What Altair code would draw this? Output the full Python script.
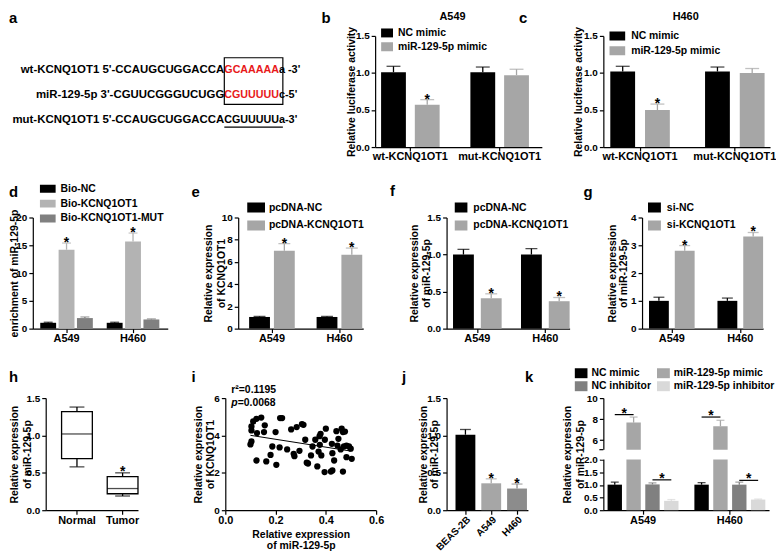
import altair as alt
import pandas as pd

FONT = "Liberation Sans"
RED = "#e8191a"
BLACK = "#000000"
GRAY = "#a6a6a6"
DGRAY = "#808080"
LGRAY = "#d9d9d9"

# ---------------- data ----------------
# a: sequences
seq_left = ["wt-KCNQ1OT1 5'-CCAUGCUGGACCA", "miR-129-5p 3'-CGUUCGGGUCUGG", "mut-KCNQ1OT1 5'-CCAUGCUGGACCA"]
seq_site = ["GCAAAAA", "CGUUUUU", "CGUUUUU"]
seq_right = ["a -3'", "c-5'", "a-3'"]

# b / c: luciferase
luc_groups = ["wt-KCNQ1OT1", "mut-KCNQ1OT1"]
mimic_series = ["NC mimic", "miR-129-5p mimic"]
b_mean = [1.01, 0.57, 1.01, 0.97]
b_err = [0.08, 0.07, 0.07, 0.08]
b_sig = [False, True, False, False]
c_mean = [1.02, 0.50, 1.02, 1.00]
c_err = [0.07, 0.08, 0.06, 0.06]
c_sig = [False, True, False, False]

cells = ["A549", "H460"]
# d: RNA pull-down
d_series = ["Bio-NC", "Bio-KCNQ1OT1", "Bio-KCNQ1OT1-MUT"]
d_mean = [1.05, 14.2, 1.9, 1.05, 15.7, 1.65]
d_err = [0.1, 1.2, 0.2, 0.1, 1.5, 0.1]
d_sig = [False, True, False, False, True, False]
# e / f
pcdna_series = ["pcDNA-NC", "pcDNA-KCNQ1OT1"]
e_mean = [1.05, 7.0, 1.05, 6.65]
e_err = [0.05, 0.65, 0.05, 0.6]
e_sig = [False, True, False, True]
f_mean = [1.0, 0.41, 1.0, 0.37]
f_err = [0.07, 0.06, 0.08, 0.05]
f_sig = [False, True, False, True]
# g
si_series = ["si-NC", "si-KCNQ1OT1"]
g_mean = [1.0, 2.8, 1.0, 3.32]
g_err = [0.13, 0.19, 0.1, 0.14]
g_sig = [False, True, False, True]

# h: box plot
box_groups = ["Normal", "Tumor"]
box_min = [0.58, 0.19]
box_q1 = [0.69, 0.22]
box_med = [1.02, 0.29]
box_q3 = [1.32, 0.45]
box_max = [1.38, 0.50]
box_sig = [False, True]

# i: scatter
mir_x = [0.111, 0.124, 0.143, 0.157, 0.154, 0.126, 0.104, 0.104, 0.104, 0.100,
         0.124, 0.163, 0.180, 0.187, 0.203, 0.200, 0.218, 0.226, 0.216, 0.246,
         0.262, 0.272, 0.275, 0.284, 0.295, 0.305, 0.311, 0.318, 0.324, 0.329,
         0.341, 0.347, 0.358, 0.366, 0.371, 0.375, 0.379, 0.376, 0.382, 0.400,
         0.396, 0.395, 0.420, 0.426, 0.426, 0.424, 0.433, 0.442, 0.446, 0.450,
         0.463, 0.468, 0.472, 0.476, 0.482, 0.492, 0.499, 0.503, 0.482, 0.468, 0.459]
kcnq_y = [4.75, 4.89, 4.96, 4.54, 4.18, 4.13, 4.48, 4.27, 3.68, 3.52,
          2.66, 2.61, 2.96, 3.41, 2.43, 4.18, 4.93, 4.93, 3.36, 3.25,
          4.32, 3.02, 2.89, 4.45, 3.18, 4.61, 4.57, 3.77, 2.54, 2.50,
          2.93, 3.41, 3.77, 2.34, 3.14, 3.96, 4.09, 3.50, 2.93, 4.36,
          3.77, 2.04, 2.07, 2.13, 3.05, 3.55, 2.66, 4.23, 3.46, 3.82,
          4.36, 4.18, 3.41, 4.21, 3.46, 3.41, 3.29, 2.75, 2.84, 2.07, 3.25]

# j
j_cells = ["BEAS-2B", "A549", "H460"]
j_mean = [1.01, 0.36, 0.29]
j_err = [0.07, 0.06, 0.06]
j_sig = [False, True, True]
j_colors = [BLACK, GRAY, "#8c8c8c"]

# k
k_series = ["NC mimic", "miR-129-5p mimic", "NC inhibitor", "miR-129-5p inhibitor"]
k_mean = [1.01, 7.67, 1.02, 0.37, 1.01, 7.32, 1.01, 0.42]
k_err = [0.10, 0.53, 0.06, 0.05, 0.08, 0.57, 0.10, 0.02]
k_br_group = ["A549", "A549", "H460", "H460"]
k_br_from = ["NC mimic", "NC inhibitor", "NC mimic", "NC inhibitor"]
k_br_to = ["miR-129-5p mimic", "miR-129-5p inhibitor", "miR-129-5p mimic", "miR-129-5p inhibitor"]
k_br_y = [8.43, 1.20, 8.20, 1.18]


# ---------------- helpers ----------------
def one():
    return pd.DataFrame({"z": [0]})


def txt(s, x, y, size=11, weight="bold", align="left", baseline="middle", style="normal", color="black"):
    return alt.Chart(pd.DataFrame({"t": [s]})).mark_text(
        fontSize=size, fontWeight=weight, align=align, baseline=baseline,
        fontStyle=style, color=color, font=FONT
    ).encode(text="t:N", x=alt.value(x), y=alt.value(y))


def bounds_rule(top, H, bottom):
    return alt.Chart(one()).mark_rule(color="white", strokeWidth=0.5).encode(
        x=alt.value(0), y=alt.value(-top), y2=alt.value(H + bottom))


def spacer(w, H, top=None, bottom=None):
    if top is not None:
        ch = bounds_rule(top, H, bottom)
    else:
        ch = alt.Chart(one()).mark_point(opacity=0, size=1).encode(x=alt.value(0), y=alt.value(0))
    return ch.properties(width=w, height=H)


def band_scale(W, n, c1, c2, G):
    S = c2 - c1
    pi = 1 - G / S
    po = max(0.0, (W / S - n + pi) / 2)
    free = W - S * (n - pi)
    start = c1 - G / 2
    al = min(1.0, max(0.0, start / free)) if free > 0 else 0.5
    return alt.Scale(paddingInner=pi, paddingOuter=po, align=al)


def rect_sym(w, h):
    return "M-1,-{0:.3f}H1V{0:.3f}H-1Z".format(h / w)


def legend(x, y, w, h, clip, rowpad, loff, columns=None, colpad=None):
    kw = dict(orient="none", legendX=x, legendY=y, title=None, symbolType=rect_sym(w, h),
              symbolSize=w * w, clipHeight=clip, rowPadding=rowpad, labelOffset=loff,
              symbolStrokeWidth=0)
    if columns:
        kw["columns"] = columns
        kw["columnPadding"] = colpad
        kw["direction"] = "horizontal"
    else:
        kw["direction"] = "vertical"
    return alt.Legend(**kw)


def yaxis(H, ticks, title, tx, tlh=12, fmt=".1f", expr=None):
    kw = dict(values=ticks, tickCount=30, title=title, titleX=tx, titleY=H / 2, titleAngle=-90,
              titleAlign="center", titleBaseline="middle", titleLineHeight=tlh)
    if expr:
        kw["labelExpr"] = expr
    else:
        kw["format"] = fmt
    return alt.Axis(**kw)


def bar_panel(groups, series, means, errs, sigs, colors, W, H, c1, c2, bw, gap,
              ydom, yticks, ytitle, tx, tlh=12, leg=None, yfmt=".1f", yscale=None,
              expr=None, extra=None, capw=None):
    ns = len(series)
    rows = []
    for gi, g in enumerate(groups):
        for si, s in enumerate(series):
            k = gi * ns + si
            rows.append({"group": g, "series": s, "mean": means[k], "top": means[k] + errs[k],
                         "ecol": colors[si], "star": "*" if sigs[k] else ""})
    df = pd.DataFrame(rows)
    G = ns * bw + (ns - 1) * gap
    X = alt.X("group:N", sort=groups, scale=band_scale(W, len(groups), c1, c2, G),
              axis=alt.Axis(title=None))
    XO = alt.XOffset("series:N", sort=series,
                     scale=alt.Scale(domain=series, paddingInner=gap / (bw + gap), paddingOuter=0))
    ysc = yscale if yscale is not None else alt.Scale(domain=ydom, nice=False, zero=True)
    yax = yaxis(H, yticks, ytitle, tx, tlh, yfmt, expr)

    def Y(f):
        return alt.Y(f"{f}:Q", scale=ysc, axis=yax)

    base = alt.Chart(df)
    bars = base.mark_bar().encode(
        x=X, xOffset=XO, y=Y("mean"),
        color=alt.Color("series:N", sort=series, scale=alt.Scale(domain=series, range=colors), legend=leg))
    err = base.mark_rule(strokeWidth=1.3).encode(
        x=X, xOffset=XO, y=Y("mean"), y2="top:Q", stroke=alt.Stroke("ecol:N", scale=None))
    cap = base.mark_tick(thickness=1.3, size=capw or round(bw * 0.55)).encode(
        x=X, xOffset=XO, y=Y("top"), fill=alt.Fill("ecol:N", scale=None))
    star = base.transform_filter("datum.star != ''").mark_text(
        fontSize=14, fontWeight="bold", baseline="alphabetic", dy=4, color="black", font=FONT
    ).encode(x=X, xOffset=XO, y=Y("top"), text="star:N")
    layers = [bars, err, cap, star]
    if extra:
        layers += extra(X, XO, Y)
    return layers


def letter(ch, x, y):
    return txt(ch, x, y, size=15, baseline="top")


def indep(ch):
    return ch.resolve_scale(color="independent", xOffset="independent").resolve_legend(color="independent")


# ---------------- row 1 ----------------
H1 = 112
seq_df = pd.DataFrame({"row": [0, 1, 2], "left": seq_left, "site": seq_site, "right": seq_right})
seq_y = alt.Y("row:Q", scale=alt.Scale(domain=[0, 2], range=[34, 85]), axis=None)
seq_base = alt.Chart(seq_df)
a_left = seq_base.mark_text(align="right", baseline="middle", fontSize=11.5, fontWeight="bold",
                            font=FONT, color="black").encode(x=alt.value(217), y=seq_y, text="left:N")
a_site = seq_base.mark_text(align="left", baseline="middle", fontSize=10.8, fontWeight="bold", font=FONT).encode(
    x=alt.value(217), y=seq_y, text="site:N",
    color=alt.condition("datum.row < 2", alt.value(RED), alt.value("black")))
a_right = seq_base.mark_text(align="left", baseline="middle", fontSize=11, fontWeight="bold",
                             font=FONT, color="black").encode(x=alt.value(272), y=seq_y, text="right:N")
a_box = alt.Chart(one()).mark_rect(fillOpacity=0, stroke="black", strokeWidth=1.2).encode(
    x=alt.value(217), x2=alt.value(276), y=alt.value(22), y2=alt.value(69))
a_line = alt.Chart(one()).mark_rule(color="black", strokeWidth=1.2).encode(
    x=alt.value(217), x2=alt.value(276), y=alt.value(92))
panel_a = alt.layer(bounds_rule(25, H1, 25), letter("a", 0, -25), a_left, a_site, a_right, a_box, a_line
                    ).properties(width=369, height=H1)

b_layers = bar_panel(luc_groups, mimic_series, b_mean, b_err, b_sig, [BLACK, GRAY], 168, H1,
                     35.5, 125.5, 25, 9, [0, 1.5], [0, 0.5, 1.0, 1.5], "Relative luciferase activity", -24,
                     leg=legend(6, -9, 12, 9, 12, 2, 5))
panel_b = alt.layer(*b_layers, letter("b", -54, -25), txt("A549", 78, -19, align="center")
                    ).properties(width=168, height=H1)

c_layers = bar_panel(luc_groups, mimic_series, c_mean, c_err, c_sig, [BLACK, GRAY], 168, H1,
                     37, 132.5, 25, 10, [0, 1.5], [0, 0.5, 1.0, 1.5], "Relative luciferase activity", -25,
                     leg=legend(6, -6, 16, 9, 12, 3, 6))
panel_c = alt.layer(*c_layers, letter("c", -85, -25), txt("H460", 83, -19, align="center")
                    ).properties(width=168, height=H1)

row1 = indep(alt.hconcat(panel_a, panel_b, spacer(62, H1), panel_c, spacing=0, bounds="flush"))

# ---------------- row 2 ----------------
H2 = 112
d_layers = bar_panel(cells, d_series, d_mean, d_err, d_sig, [BLACK, "#b3b3b3", DGRAY], 136, H2,
                     34, 101, 16, 2.5, [0, 20], [0, 5, 10, 15, 20], "enrichment of miR-129-5p", -18,
                     yfmt="d", leg=legend(7, -35, 16, 8, 12, 3, 5))
panel_d = alt.layer(*d_layers, letter("d", -24, -33)).properties(width=136, height=H2)

e_layers = bar_panel(cells, pcdna_series, e_mean, e_err, e_sig, [BLACK, GRAY], 126, H2,
                     34, 102, 21, 4, [0, 10], [0, 2, 4, 6, 8, 10], ["Relative expression", "of KCNQ1OT1"], -30,
                     tlh=13.5, yfmt="d", leg=legend(9, -17, 18, 10, 14, 4, 4))
panel_e = alt.layer(*e_layers, letter("e", -47, -33)).properties(width=126, height=H2)

f_layers = bar_panel(cells, pcdna_series, f_mean, f_err, f_sig, [BLACK, GRAY], 124, H2,
                     32, 100.5, 21, 7, [0, 1.5], [0, 0.5, 1.0, 1.5], ["Relative expression", "of miR-129-5p"], -32,
                     tlh=12, leg=legend(8, -17, 13, 10, 14, 4, 6))
panel_f = alt.layer(*f_layers, letter("f", -57, -34)).properties(width=124, height=H2)

g_layers = bar_panel(cells, si_series, g_mean, g_err, g_sig, [BLACK, GRAY], 122, H2,
                     30, 99, 20, 6, [0, 4], [0, 1, 2, 3, 4], ["Relative expression", "of miR-129-5p"], -30,
                     tlh=11.5, yfmt="d", leg=legend(6, -17, 13, 10, 14, 4, 6))
panel_g = alt.layer(*g_layers, letter("g", -59, -33)).properties(width=122, height=H2)

row2 = indep(alt.hconcat(spacer(24, H2, 44, 30), panel_d, spacer(71, H2), panel_e, spacer(84, H2), panel_f,
                         spacer(73, H2), panel_g, spacing=0, bounds="flush"))

# ---------------- row 3 ----------------
H3 = 113
# h box plot
hdf = pd.DataFrame({"group": box_groups, "lo": box_min, "q1": box_q1, "med": box_med,
                    "q3": box_q3, "hi": box_max, "star": ["*" if s else "" for s in box_sig]})
hX = alt.X("group:N", sort=box_groups, scale=band_scale(93, 2, 32, 78, 31), axis=alt.Axis(title=None))
hY_sc = alt.Scale(domain=[0, 1.5], nice=False)
hY_ax = yaxis(H3, [0, 0.5, 1.0, 1.5], ["Relative expression", "of miR-129-5p"], -31, 13)


def hY(f):
    return alt.Y(f"{f}:Q", scale=hY_sc, axis=hY_ax)


hb = alt.Chart(hdf)
h_whisk = hb.mark_rule(color="black", strokeWidth=1.3).encode(x=hX, y=hY("lo"), y2="hi:Q")
h_box = hb.mark_bar(fill="white", stroke="black", strokeWidth=1.3).encode(x=hX, y=hY("q1"), y2="q3:Q")
h_med = hb.mark_tick(color="black", thickness=1.3, size=31).encode(x=hX, y=hY("med"))
h_lo = hb.mark_tick(color="black", thickness=1.3, size=15).encode(x=hX, y=hY("lo"))
h_hi = hb.mark_tick(color="black", thickness=1.3, size=15).encode(x=hX, y=hY("hi"))
h_star = hb.transform_filter("datum.star != ''").mark_text(
    fontSize=14, fontWeight="bold", baseline="alphabetic", dy=3, color="black", font=FONT
).encode(x=hX, y=hY("hi"), text="star:N")
panel_h = alt.layer(h_whisk, h_box, h_med, h_lo, h_hi, h_star, letter("h", -37, -28)
                    ).properties(width=93, height=H3)

# i scatter
idf = pd.DataFrame({"x": mir_x, "y": kcnq_y})
iX = alt.X("x:Q", scale=alt.Scale(domain=[0, 0.6], nice=False),
           axis=alt.Axis(values=[0, 0.2, 0.4, 0.6], format=".1f", title=["Relative expression", "of miR-129-5p"],
                         titleY=19, titleBaseline="top", titleLineHeight=12))
iY = alt.Y("y:Q", scale=alt.Scale(domain=[0, 6], nice=False),
           axis=yaxis(H3, [0, 2, 4, 6], ["Relative expression", "of KCNQ1OT1"], -27, 12, "d"))
i_pts = alt.Chart(idf).mark_circle(size=40, color="black", opacity=1).encode(x=iX, y=iY)
i_fit = alt.Chart(idf).transform_regression("x", "y", extent=[0.1, 0.5]).mark_line(
    color="black", strokeWidth=1).encode(x=iX, y=iY)
panel_i = alt.layer(i_pts, i_fit, letter("i", -34, -28),
                    txt("r\u00b2=0.1195", 6, -8, size=10.5),
                    txt("p", 6, 5, size=10.5, style="italic"),
                    txt("=0.0068", 12.5, 5, size=10.5)
                    ).properties(width=152, height=H3)

# j bars
jdf = pd.DataFrame({"cell": j_cells, "mean": j_mean, "top": [m + e for m, e in zip(j_mean, j_err)],
                    "col": j_colors, "star": ["*" if s else "" for s in j_sig]})
jX = alt.X("cell:N", sort=j_cells, scale=band_scale(82, 3, 19, 45, 20),
           axis=alt.Axis(title=None, labelAngle=-45, labelAlign="right", labelBaseline="top",
                         labelPadding=0, labelFontSize=10))
jY_sc = alt.Scale(domain=[0, 1.5], nice=False)
jY_ax = yaxis(H3, [0, 0.5, 1.0, 1.5], ["Relative expression", "of miR-129-5p"], -23, 11)


def jY(f):
    return alt.Y(f"{f}:Q", scale=jY_sc, axis=jY_ax)


jb = alt.Chart(jdf)
j_bars = jb.mark_bar().encode(x=jX, y=jY("mean"), fill=alt.Fill("col:N", scale=None))
j_err = jb.mark_rule(strokeWidth=1.3).encode(x=jX, y=jY("mean"), y2="top:Q", stroke=alt.Stroke("col:N", scale=None))
j_cap = jb.mark_tick(thickness=1.3, size=11).encode(x=jX, y=jY("top"), fill=alt.Fill("col:N", scale=None))
j_star = jb.transform_filter("datum.star != ''").mark_text(
    fontSize=14, fontWeight="bold", baseline="alphabetic", dy=4, color="black", font=FONT
).encode(x=jX, y=jY("top"), text="star:N")
panel_j = alt.layer(j_bars, j_err, j_cap, j_star, letter("j", -45, -28)).properties(width=82, height=H3)

# k bars with broken axis
K_W = 167


def k_extra(X, XO, Y):
    band = alt.Chart(one()).mark_rect(color="white").encode(
        x=alt.value(-3), x2=alt.value(K_W), y=alt.Y(datum=2.04), y2=alt.Y2(datum=5.06))
    brk = alt.Chart(one()).mark_rule(color="black", strokeWidth=1.2).encode(
        x=alt.value(-4), x2=alt.value(0), y=alt.Y(datum=5.1))
    brows = []
    for i in range(len(k_br_y)):
        brows.append({"id": i, "group": k_br_group[i], "series": k_br_from[i], "y": k_br_y[i]})
        brows.append({"id": i, "group": k_br_group[i], "series": k_br_to[i], "y": k_br_y[i]})
    bdf = pd.DataFrame(brows)
    lines = alt.Chart(bdf).mark_line(color="black", strokeWidth=1.2).encode(
        x=X, xOffset=XO, y=Y("y"), detail="id:N")
    sdf = pd.DataFrame({"group": k_br_group, "series": k_br_from, "y": k_br_y, "star": ["*"] * len(k_br_y)})
    stars = alt.Chart(sdf).mark_text(fontSize=14, fontWeight="bold", baseline="alphabetic", dy=3, dx=9.5,
                                     color="black", font=FONT).encode(
        x=X, xOffset=XO, y=Y("y"), text="star:N")
    return [band, brk, lines, stars]


k_scale = alt.Scale(domain=[0, 2, 5.1, 10], range=[H3, 62, 52, 0], nice=False, zero=False)
k_layers = bar_panel(cells, k_series, k_mean, k_err, [False] * 8, [BLACK, GRAY, DGRAY, LGRAY], K_W, H3,
                     40, 127.5, 14.5, 4.5, None, [0, 0.5, 1.0, 1.5, 2.0, 6, 8, 10],
                     ["Relative expression", "of miR-129-5p"], -36, tlh=13, yscale=k_scale,
                     expr="datum.value >= 5 ? format(datum.value, 'd') : format(datum.value, '.1f')",
                     leg=legend(-29, -30.5, 13, 10, 11, 2, 4, columns=2, colpad=5), extra=k_extra, capw=8)
panel_k = alt.layer(*k_layers, letter("k", -79, -28)).properties(width=K_W, height=H3)

row3 = indep(alt.hconcat(spacer(37, H3, 38, 31), panel_h, spacer(88, H3), panel_i, spacer(71, H3), panel_j,
                         spacer(76, H3), panel_k, spacing=0, bounds="flush"))

chart = indep(alt.vconcat(row1, row2, row3, spacing=0)).properties(padding=0).configure_view(
    stroke=None
).configure_axis(
    domainColor="black", domainWidth=1.2, tickColor="black", tickWidth=1.2, tickSize=4,
    labelColor="black", labelFont=FONT, labelFontWeight="bold", labelFontSize=10,
    titleFont=FONT, titleFontWeight="bold", titleFontSize=10.5, titleColor="black",
    grid=False, labelFlush=False, labelOverlap=False, labelPadding=2
).configure_axisX(
    labelFontSize=11, labelPadding=0, labelAngle=0
).configure_legend(
    labelFont=FONT, labelFontWeight="bold", labelFontSize=10.5, labelColor="black",
    padding=0, titlePadding=0
).configure_text(font=FONT)

chart.save("out.html", embed_options={"renderer": "svg", "actions": False})
